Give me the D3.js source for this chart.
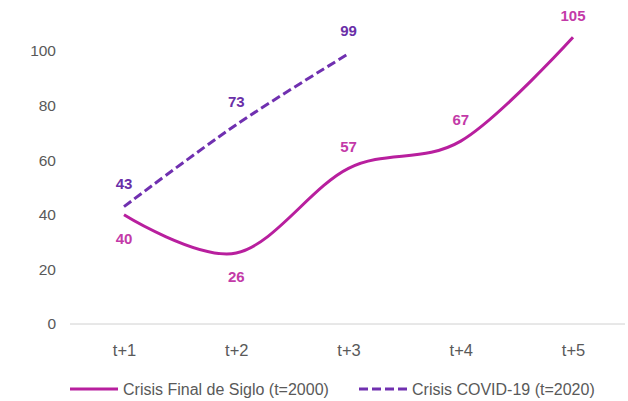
<!DOCTYPE html>
<html>
<head>
<meta charset="utf-8">
<script src="https://cdn.jsdelivr.net/npm/d3@7"></script>
<style>
  html, body { margin: 0; padding: 0; background: #ffffff; }
  svg { display: block; font-family: Arial, "Liberation Sans", sans-serif; }
</style>
</head>
<body>
<svg id="chart" width="628" height="401"></svg>
<script>
// Periods after the start of each crisis
const categories = ["t+1", "t+2", "t+3", "t+4", "t+5"];
// Index series for each crisis
const crisisFinalSiglo = [40, 26, 57, 67, 105];
const crisisCovid = [43, 73, 99];
const yTicks = [0, 20, 40, 60, 80, 100];
const seriesNames = ["Crisis Final de Siglo (t=2000)", "Crisis COVID-19 (t=2020)"];

const svg = d3.select("#chart");
const solidColor = "#b81f9e";
const dashColor = "#7030b0";
const solidLabelColor = "#c33aa8";
const dashLabelColor = "#6a2fa8";
const axisText = "#595959";

const x = d3.scalePoint().domain(categories).range([124, 573]);
const y = d3.scaleLinear().domain([0, 100]).range([324, 51]);

// Y axis labels (no axis line)
const yAxis = svg.append("g").attr("transform", "translate(56,0)")
  .call(d3.axisLeft(y).tickValues(yTicks).tickSize(0).tickPadding(0));
yAxis.select(".domain").remove();
yAxis.selectAll("text").attr("fill", axisText).style("font-size", "15.5px")
  .style("font-family", "Arial, 'Liberation Sans', sans-serif");

// X axis baseline and category labels
const xAxis = svg.append("g").attr("transform", `translate(0,${y(0)})`)
  .call(d3.axisBottom(x).tickSize(0).tickPadding(20));
xAxis.select(".domain").attr("d", "M70,0H625").attr("stroke", "#d0d0d0").attr("stroke-width", 1);
xAxis.selectAll("text").attr("fill", axisText).style("font-size", "16.5px")
  .style("font-family", "Arial, 'Liberation Sans', sans-serif");

const line = d3.line()
  .x((d, i) => x(categories[i]))
  .y(d => y(d))
  .curve(d3.curveCardinal.tension(0));

svg.append("path").datum(crisisFinalSiglo)
  .attr("d", line).attr("fill", "none")
  .attr("stroke", solidColor).attr("stroke-width", 3);

svg.append("path").datum(crisisCovid)
  .attr("d", line).attr("fill", "none")
  .attr("stroke", dashColor).attr("stroke-width", 3)
  .attr("stroke-dasharray", "9,4");

// Value labels: above or below each point
const solidPos = [1, 1, -1, -1, -1];
svg.selectAll("text.lbl1").data(crisisFinalSiglo).enter().append("text")
  .attr("class", "lbl1")
  .attr("x", (d, i) => x(categories[i]))
  .attr("y", (d, i) => y(d) + (solidPos[i] > 0 ? 29 : -16))
  .attr("text-anchor", "middle")
  .attr("fill", solidLabelColor)
  .style("font-size", "15px").style("font-weight", "bold")
  .text(d => d);

svg.selectAll("text.lbl2").data(crisisCovid).enter().append("text")
  .attr("class", "lbl2")
  .attr("x", (d, i) => x(categories[i]))
  .attr("y", d => y(d) - 18)
  .attr("text-anchor", "middle")
  .attr("fill", dashLabelColor)
  .style("font-size", "15px").style("font-weight", "bold")
  .text(d => d);

// Legend
const legend = svg.append("g").attr("transform", "translate(0,389)");
legend.append("line").attr("x1", 70).attr("x2", 118).attr("y1", 0).attr("y2", 0)
  .attr("stroke", solidColor).attr("stroke-width", 3);
legend.append("text").attr("x", 123).attr("y", 5.5)
  .attr("fill", axisText).style("font-size", "16px").text(seriesNames[0]);
legend.append("line").attr("x1", 359).attr("x2", 408).attr("y1", 0).attr("y2", 0)
  .attr("stroke", dashColor).attr("stroke-width", 3).attr("stroke-dasharray", "9,4");
legend.append("text").attr("x", 412).attr("y", 5.5)
  .attr("fill", axisText).style("font-size", "16px").text(seriesNames[1]);
</script>
</body>
</html>
